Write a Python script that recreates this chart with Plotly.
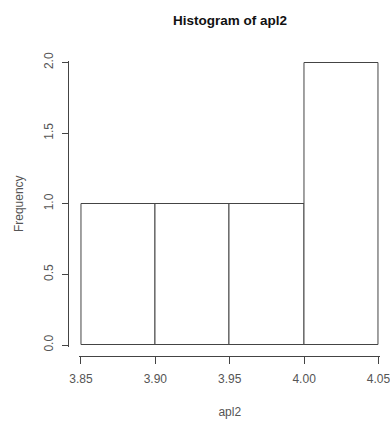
import plotly.graph_objects as go

# Histogram of apl2: bin edges and counts
bin_edges = [3.85, 3.90, 3.95, 4.00, 4.05]
counts = [1, 1, 1, 2]
x_ticks = [3.85, 3.90, 3.95, 4.00, 4.05]
y_ticks = [0.0, 0.5, 1.0, 1.5, 2.0]

centers = [(a + b) / 2 for a, b in zip(bin_edges[:-1], bin_edges[1:])]
widths = [b - a for a, b in zip(bin_edges[:-1], bin_edges[1:])]

W, H = 390, 422
# pixel positions of the first/last ticks on each axis
x_lo_px, x_hi_px = 81, 379
y_hi_px, y_lo_px = 62, 345
pad = 1.5                      # small room so bar outlines on the edge are not clipped
x_axis_px = 356                # vertical position of the x axis line
y_axis_px = 68                 # horizontal position of the y axis line

sx = (x_hi_px - x_lo_px) / (x_ticks[-1] - x_ticks[0])
sy = (y_lo_px - y_hi_px) / (y_ticks[-1] - y_ticks[0])
x_range = [x_ticks[0] - pad / sx, x_ticks[-1] + pad / sx]
y_range = [y_ticks[0] - pad / sy, y_ticks[-1] + pad / sy]

L, R = y_axis_px, x_hi_px + pad
T, B = y_hi_px - pad, x_axis_px

line_col = "#444444"
text_col = "#555555"
font = "Liberation Sans, Arial, sans-serif"

fig = go.Figure(
    go.Bar(
        x=centers,
        y=counts,
        width=widths,
        marker=dict(color="white", line=dict(color=line_col, width=1)),
        hoverinfo="x+y",
    )
)

fig.update_layout(
    width=W,
    height=H,
    margin=dict(l=L, r=W - R, t=T, b=H - B, pad=0),
    plot_bgcolor="white",
    paper_bgcolor="white",
    showlegend=False,
    bargap=0,
    font=dict(family=font, color=text_col, size=12),
    title=dict(
        text="<b>Histogram of apl2</b>",
        x=230 / W,
        xanchor="center",
        y=1 - 20 / H,
        yanchor="middle",
        font=dict(family=font, size=13.5, color="#111111"),
    ),
    xaxis=dict(
        domain=[(x_lo_px - pad - L) / (R - L), 1],
        range=x_range,
        anchor="free",
        position=0,
        automargin=False,
        tickvals=x_ticks,
        ticktext=[f"{v:.2f}" for v in x_ticks],
        ticklabeloverflow="allow",
        ticks="outside",
        ticklen=7,
        tickwidth=1,
        tickcolor=line_col,
        showline=True,
        linecolor=line_col,
        linewidth=1,
        showgrid=False,
        zeroline=False,
        ticklabelstandoff=5,
        title=dict(text="apl2", standoff=22, font=dict(size=12, color=text_col)),
    ),
    yaxis=dict(
        domain=[(B - y_lo_px - pad) / (B - T), 1],
        range=y_range,
        anchor="free",
        position=0,
        automargin=False,
        tickvals=y_ticks,
        ticktext=[f"{v:.1f}" for v in y_ticks],
        ticklabeloverflow="allow",
        tickangle=-90,
        ticks="outside",
        ticklen=6,
        tickwidth=1,
        tickcolor=line_col,
        showline=True,
        linecolor=line_col,
        linewidth=1,
        showgrid=False,
        zeroline=False,
        ticklabelstandoff=4,
        title=dict(text="Frequency", standoff=14, font=dict(size=12, color=text_col)),
    ),
)

fig.write_html("out.html")
